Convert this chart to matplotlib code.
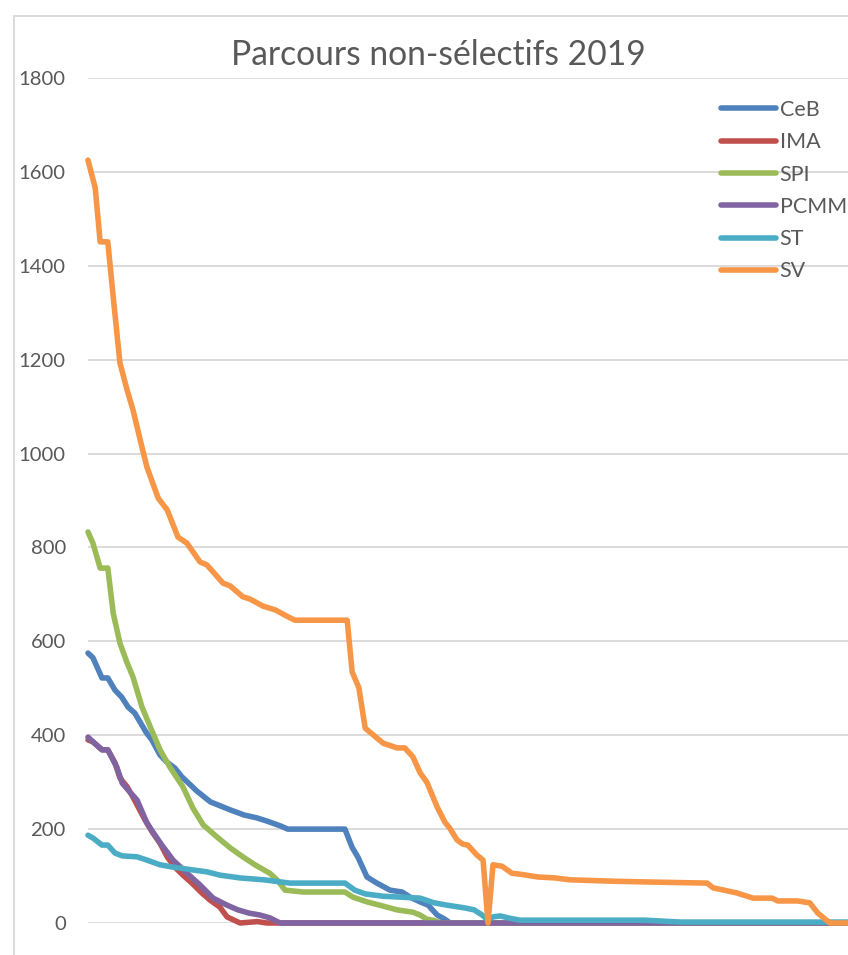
import matplotlib.pyplot as plt
from matplotlib.patches import Rectangle

plt.rcParams['font.family'] = ['Lato', 'DejaVu Sans']

# rank of each course (x) and number of places (y)
sv_x = [0, 1.6, 2.7, 4.4, 5.6, 7.1, 8.7, 10, 11.6, 13.1, 15.6, 17.6, 20, 22,
        24.9, 26.4, 30, 31.6, 34.4, 36, 38.9, 41.6, 44.9, 46, 57.6, 58.7,
        60.2, 61.6, 65.6, 68.7, 70.4, 72.2, 73.8, 75.3, 77.6, 79.3, 80.4, 82,
        83.3, 84.4, 86.4, 87.8, 88.9, 90, 92, 94.2, 96, 100, 103.8, 107.1,
        116.7, 126.4, 137.6, 138.9, 144.2, 147.8, 152, 153.3, 157.6, 160.4,
        162.2, 164.9, 168.9]
sv_y = [1625, 1566, 1451, 1451, 1334, 1193, 1135, 1093, 1029, 971, 905, 880,
        822, 809, 769, 763, 724, 718, 695, 690, 675, 667, 650, 645, 645, 535,
        501, 415, 383, 373, 373, 354, 320, 300, 247, 215, 202, 177, 168, 166,
        145, 134, 0, 124, 121, 106, 104, 98, 96, 92, 89, 87, 85, 75, 64, 53,
        53, 47, 47, 43, 21, 0, 0]

ceb_x = [0, 1.1, 3.1, 4.4, 6, 7.5, 8.9, 10.4, 13, 14.2, 16, 17.5, 19.3, 20.9,
         24.2, 27.2, 31.6, 34.7, 37.5, 39.8, 42.7, 44.4, 57.1, 58.7, 60, 62,
         64.2, 67.1, 69.8, 71.6, 73.8, 75.6, 77.6, 79.3, 80.5, 168.9]
ceb_y = [575, 565, 522, 522, 496, 481, 460, 447, 405, 390, 358, 343, 330, 311,
         281, 258, 241, 230, 224, 217, 207, 200, 200, 161, 140, 98, 85, 70, 66,
         55, 45, 38, 17, 8, 0, 0]

ima_x = [0, 1.1, 3.1, 4.4, 6, 7.1, 8.7, 10, 12.7, 14.4, 16, 17.6, 19.3, 21.1,
         23.1, 25.3, 27.1, 29.3, 30.9, 33.8, 37.6, 39.8, 168.9]
ima_y = [390, 386, 369, 369, 341, 309, 290, 268, 219, 192, 170, 141, 119, 102,
         85, 64, 49, 34, 13, 0, 3, 0, 0]

spi_x = [0, 1.1, 2.7, 4.4, 5.6, 7.1, 8.7, 10, 12, 14.4, 16, 18.2, 21.1, 23.3,
         25.6, 28.7, 31.6, 34.4, 37.1, 40.4, 42, 43.8, 47.8, 57.1, 58.9, 62,
         65.6, 68.7, 72.2, 73.8, 75.3, 76.7, 78.5, 168.9]
spi_y = [833, 809, 756, 756, 660, 596, 554, 524, 460, 405, 369, 332, 290, 245,
         209, 183, 160, 141, 124, 106, 92, 70, 66, 66, 55, 45, 36, 28, 23, 17,
         8, 6, 0, 0]

pcmm_x = [0, 1.1, 3.1, 4.4, 6.4, 7.6, 9.3, 10.9, 13.1, 14.4, 16.4, 18.9, 22,
          24.9, 27.8, 30.9, 33.3, 35.8, 38.2, 40.4, 42.7, 168.9]
pcmm_y = [396, 386, 369, 369, 332, 298, 279, 262, 213, 194, 166, 134, 106, 81,
          53, 38, 28, 21, 17, 11, 0, 0]

st_x = [0, 1.1, 3.1, 4.4, 6, 7.6, 10.9, 13.1, 16, 18.9, 23.3, 26.4, 29.3,
        33.8, 39.1, 44.9, 57.1, 59.3, 61.6, 65.6, 73.8, 76.9, 79.8, 83.8, 85.8,
        87.6, 88.9, 90, 91.6, 93.8, 96, 123.8, 131.6, 168.9]
st_y = [187, 181, 166, 166, 149, 143, 141, 134, 124, 119, 113, 109, 102, 96,
        92, 85, 85, 70, 62, 57, 53, 43, 38, 32, 28, 17, 6, 13, 15, 10, 6, 6,
        2, 2]

names = ['CeB', 'IMA', 'SPI', 'PCMM', 'ST', 'SV']
colors = ['#4F81BD', '#C0504D', '#9BBB59', '#8064A2', '#4BACC6', '#F79646']
series = [(ceb_x, ceb_y), (ima_x, ima_y), (spi_x, spi_y),
          (pcmm_x, pcmm_y), (st_x, st_y), (sv_x, sv_y)]

fig = plt.figure(figsize=(8.48, 9.55), dpi=100)
ax = fig.add_axes([88 / 848, 1 - 923 / 955, 1 - 88 / 848, 845 / 955])

for (xs, ys), name, c in zip(series, names, colors):
    ax.plot(xs, ys, color=c, lw=4.0, label=name, solid_joinstyle='round',
            solid_capstyle='round', clip_on=False)

ax.set_xlim(0, 168.9)
ax.set_ylim(0, 1800)
ax.set_yticks(range(0, 1801, 200))
ax.set_xticks([])
ax.grid(axis='y', color='#D9D9D9', lw=1.3)
ax.set_axisbelow(True)
for s in ax.spines.values():
    s.set_visible(False)
ax.tick_params(axis='y', length=0, pad=16, labelsize=14.6, labelcolor='#595959')

fig.text(438 / 848, 1 - 55 / 955, 'Parcours non-sélectifs 2019', ha='center',
         va='center', fontsize=24.2, color='#595959')

# chart frame
fig.patches.append(Rectangle((14 / 848, -0.1), 1.2, 1 - 16 / 955 + 0.1,
                             transform=fig.transFigure, fill=False,
                             edgecolor='#D9D9D9', lw=1.3))

ax.legend(loc='upper left', bbox_to_anchor=(721 / 848, 1 - 100 / 955),
          bbox_transform=fig.transFigure, frameon=False, fontsize=15.5,
          handlelength=2.55, handletextpad=0.17, labelspacing=0.57,
          borderpad=0, borderaxespad=0, labelcolor='#595959')

fig.savefig('out.png', dpi=100)
